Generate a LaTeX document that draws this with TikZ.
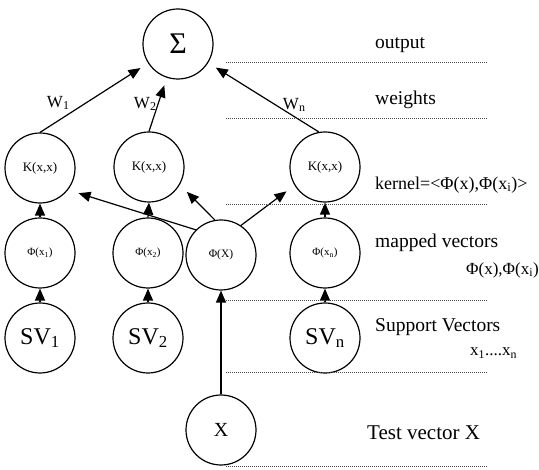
\documentclass[tikz,border=0pt]{standalone}
\usepackage{fontspec}
\setmainfont{Liberation Serif}
\usetikzlibrary{arrows.meta}

\newcommand{\lowsub}[1]{\raisebox{-2pt}{\fontsize{12}{12}\selectfont #1}}

\begin{document}
\begin{tikzpicture}[x=1pt, y=-1pt,
  unit/.style={draw, circle, line width=1.2pt, minimum size=70pt, inner sep=0pt},
  link/.style={line width=1.2pt, -{Triangle[length=12pt,width=10pt]}},
  layer/.style={black!70, line width=0.7pt, dash pattern=on 1pt off 1pt},
  caption/.style={anchor=west, inner sep=0pt, font=\fontsize{19.5}{19.5}\selectfont},
  weight/.style={font=\fontsize{17}{17}\selectfont}]
  \useasboundingbox (0,0) rectangle (539,470);

  % Output unit
  \node[unit, font=\fontsize{30}{30}\selectfont] (sum) at (178,44) {Σ};

  % Kernel layer
  \node[unit, font=\fontsize{13}{13}\selectfont] (k1) at (40,168) {K(x,x)};
  \node[unit, font=\fontsize{13}{13}\selectfont] (k2) at (149,167) {K(x,x)};
  \node[unit, font=\fontsize{13}{13}\selectfont] (kn) at (325,167) {K(x,x)};

  % Mapped vectors
  \node[unit, font=\fontsize{11}{11}\selectfont] (p1) at (40,253) {Φ(x\textsubscript{1})};
  \node[unit, font=\fontsize{11}{11}\selectfont] (p2) at (148,253) {Φ(x\textsubscript{2})};
  \node[unit, font=\fontsize{11.5}{11.5}\selectfont] (px) at (221,255) {Φ(X)};
  \node[unit, font=\fontsize{11}{11}\selectfont] (pn) at (325,253) {Φ(x\textsubscript{n})};

  % Support vectors and test vector
  \node[unit, font=\fontsize{24}{24}\selectfont] (sv1) at (40,338) {SV\textsubscript{1}};
  \node[unit, font=\fontsize{24}{24}\selectfont] (sv2) at (148,338) {SV\textsubscript{2}};
  \node[unit, font=\fontsize{24}{24}\selectfont] (svn) at (325,338) {SV\textsubscript{n}};
  \node[unit, font=\fontsize{20}{20}\selectfont] (x) at (221,430) {X};

  % Weighted sum
  \draw[link, shorten >=9pt] (k1.north) -- (sum);
  \draw[link, shorten >=8pt] (k2.north) -- (sum);
  \draw[link, shorten >=9pt] (kn.100) -- (sum);
  \node[weight] (w1) at (58,103) {W\lowsub{1}};
  \node[weight] (w2) at (145,104) {W\lowsub{2}};
  \node[weight] (wn) at (294,105) {W\lowsub{n}};

  % Kernel inputs
  \draw[link] (p1.north) -- (k1.south);
  \draw[link] (p2.north) -- (k2.south);
  \draw[link] (pn.north) -- (kn.south);
  \draw[link, shorten >=11pt] (px.135) -- (k1.-38);
  \draw[link, shorten >=10pt] (px.100) -- (k2.-30);
  \draw[link, shorten >=10pt] (px.56) -- (kn.211);

  % Feature mapping
  \draw[link] (sv1.north) -- (p1.south);
  \draw[link] (sv2.north) -- (p2.south);
  \draw[link] (svn.north) -- (pn.south);
  \draw[link] (x.north) -- (px.south);

  % Layer separators
  \foreach \yy in {62,118,204,300,372,466}
    \draw[layer] (226,\yy) -- (487,\yy);

  % Layer captions
  \node[caption] (lout) at (375,45) {output};
  \node[caption] (lw) at (375,100) {weights};
  \node[caption, font=\fontsize{18}{18}\selectfont] (lk) at (375,185) {kernel=<Φ(x),Φ(x\textsubscript{i})>};
  \node[caption] (lmap) at (375,243) {mapped vectors};
  \node[caption, anchor=east, font=\fontsize{17}{17}\selectfont] (lmap2) at (539,270) {Φ(x),Φ(x\textsubscript{i})};
  \node[caption] (lsv) at (375,327) {Support Vectors};
  \node[caption, font=\fontsize{17}{17}\selectfont] (lsv2) at (470,353) {x\textsubscript{1}....x\textsubscript{n}};
  \node[caption, font=\fontsize{21}{21}\selectfont] (ltest) at (367,433) {Test vector X};
\end{tikzpicture}
\end{document}
